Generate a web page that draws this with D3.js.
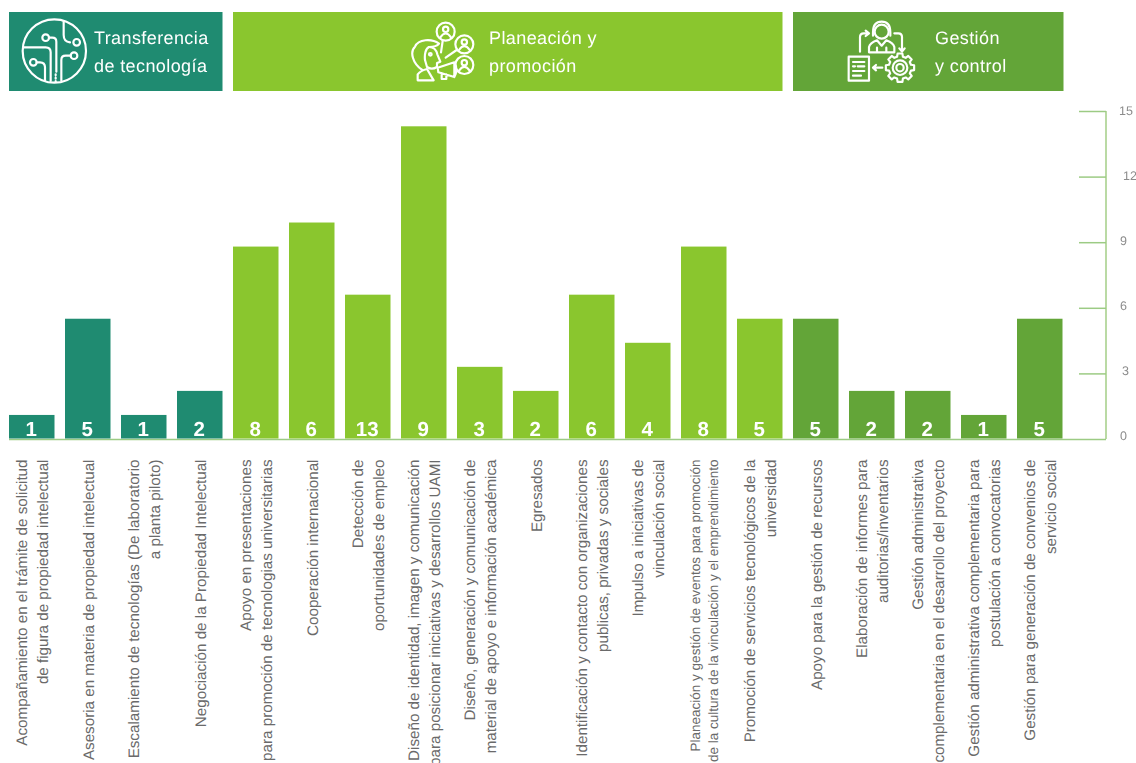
<!DOCTYPE html>
<html lang="es">
<head>
<meta charset="utf-8">
<script src="https://cdn.jsdelivr.net/npm/d3@7/dist/d3.min.js"></script>
<style>
html,body{margin:0;padding:0;background:#fff;overflow:hidden}
svg{display:block}
text{font-family:"Liberation Sans",Arial,sans-serif;text-rendering:geometricPrecision}
</style>
</head>
<body>
<div id="chart"></div>
<script>
const categories = [
  "Acompañamiento en el trámite de solicitud\nde figura de propiedad intelectual",
  "Asesoria en materia de propiedad intelectual",
  "Escalamiento de tecnologías (De laboratorio\na planta piloto)",
  "Negociación de la Propiedad Intelectual",
  "Apoyo en presentaciones\npara promoción de tecnologias universitarias",
  "Cooperación internacional",
  "Detección de\noportunidades de empleo",
  "Diseño de identidad, imagen y comunicación\npara posicionar iniciativas y desarrollos UAMI",
  "Diseño, generación y comunicación de\nmaterial de apoyo e información académica",
  "Egresados",
  "Identificación y contacto con organizaciones\npublicas, privadas y sociales",
  "Impulso a iniciativas de\nvinculación social",
  "Planeación y gestión de eventos para promoción\nde la cultura de la vinculación y el emprendimiento",
  "Promoción de servicios tecnológicos de la\nuniversidad",
  "Apoyo para la gestión de recursos",
  "Elaboración de informes para\nauditorias/inventarios",
  "Gestión administrativa\ncomplementaria en el desarrollo del proyecto",
  "Gestión administrativa complementaria para\npostulación a convocatorias",
  "Gestión para generación de convenios de\nservicio social"
];
const barValues = [1.1,5.5,1.1,2.2,8.8,9.9,6.6,14.3,3.3,2.2,6.6,4.4,8.8,5.5,5.5,2.2,2.2,1.1,5.5];
const barLabels = [1,5,1,2,8,6,13,9,3,2,6,4,8,5,5,2,2,1,5];
const barGroups = [0,0,0,0,1,1,1,1,1,1,1,1,1,1,2,2,2,2,2];
const groupNames = [["Transferencia","de tecnología"],["Planeación y","promoción"],["Gestión","y control"]];
const groupColors = ["#1f8b71","#8ac62e","#63a538"];
const yTicks = [0,3,6,9,12,15];

const W = 1136, H = 763;
const svg = d3.select("#chart").append("svg").attr("width",W).attr("height",H).attr("viewBox",`0 0 ${W} ${H}`);
const defs = svg.append("defs");
defs.append("filter").attr("id","soft").attr("x","-5%").attr("y","-5%").attr("width","110%").attr("height","110%")
  .append("feGaussianBlur").attr("stdDeviation",0.35);

const x = d3.scaleBand().domain(categories).range([3.75,1067.75]).paddingInner(0.1875).paddingOuter(0.09375);
const y = d3.scaleLinear().domain([0,15]).range([439,111]);

/* header bands */
const headerBoxes = [[9,222.5],[233,782.5],[793,1063.5]];
const headerTextX = [94,489,935];
const head = svg.append("g");
headerBoxes.forEach((b,i)=>{
  head.append("rect").attr("x",b[0]).attr("y",12).attr("width",b[1]-b[0]).attr("height",79).attr("fill",groupColors[i]);
  groupNames[i].forEach((t,j)=>{
    head.append("text").attr("x",headerTextX[i]).attr("y",44+j*28).attr("fill","#fff").attr("filter","url(#soft)")
      .attr("font-size",18).attr("letter-spacing",0.4).text(t);
  });
});

/* icons (traced in a 3x local grid) */
function icon(tx,ty){
  return svg.append("g").attr("transform",`translate(${tx},${ty}) scale(${1/3})`)
    .attr("fill","none").attr("stroke","#fff").attr("stroke-width",6.5).attr("stroke-linecap","round").attr("stroke-linejoin","round").attr("filter","url(#soft)");
}
const circ=(g,cx,cy,r)=>g.append("circle").attr("cx",cx).attr("cy",cy).attr("r",r);
const path=(g,d)=>g.append("path").attr("d",d);

const i1 = icon(15,15);
circ(i1,118,108,95);
path(i1,"M146,18V60Q146,80 165,82");circ(i1,185,82,10);
circ(i1,92,68,10);path(i1,"M102,68H112Q124,68 124,80V170");
path(i1,"M24,97H92Q107,97 107,112V198");
circ(i1,55,142,10);path(i1,"M65,142H75Q90,142 90,157V198");
circ(i1,177,122,10);path(i1,"M167,122H152Q139,122 139,135V197");
path(i1,"M122,178V202").attr("stroke-dasharray","3 7");

const i2 = icon(405,15);
[[122,50],[178,88],[178,150]].forEach(c=>{
  circ(i2,c[0],c[1],27);
  circ(i2,c[0],c[1]-7,8);
  path(i2,`M${c[0]-16},${c[1]+17}Q${c[0]},${c[1]-6} ${c[0]+16},${c[1]+17}`);
});
path(i2,"M113,78L108,112");path(i2,"M155,105L122,128");
path(i2,"M52,165C22,145 14,110 30,95C40,72 80,70 102,86C96,94 85,96 72,96C62,100 58,118 60,135");
path(i2,"M72,96Q92,96 97,118L106,140L96,144V156Q80,166 66,156L60,135");
circ(i2,76,118,4);
path(i2,"M38,196V178Q48,166 66,162L86,196Z");
path(i2,"M98,158L148,142V186L100,172ZM148,142Q160,164 148,186M110,174V192H124V178");

const i3 = icon(845,15);
circ(i3,110,50,21);
path(i3,"M84,52Q84,20 110,20Q136,20 136,52M84,52V62M136,52V62");
path(i3,"M72,112V96Q75,84 96,76L110,92L124,76Q145,84 148,96V112ZM96,112V98M124,112V98");
path(i3,"M45,110V66Q45,55 56,55H70M62,47L72,55L62,63");
path(i3,"M148,55H160Q171,55 171,66V108M163,100L171,110L179,100");
i3.append("rect").attr("x",11).attr("y",125).attr("width",61).attr("height",72);
path(i3,"M24,141H58M24,154H30M38,154H58M24,168H58M24,182H48");
path(i3,"M112,158H85M93,150L84,158L93,166");
circ(i3,165,158,22);circ(i3,165,158,11);
const gearPts = d3.range(8).flatMap(k=>{
  const a = k*Math.PI/4, w = 0.17, w2 = 0.26;
  return [[a-w2,34],[a-w,43],[a+w,43],[a+w2,34]];
});
i3.append("path").attr("transform","translate(165,158)")
  .attr("d",d3.line().curve(d3.curveLinearClosed)(gearPts.map(p=>[p[1]*Math.cos(p[0]),p[1]*Math.sin(p[0])])));

/* axis */
const tickNudge = {15:[-6,-1],12:[-2,-1],9:[-5,-2],6:[-5,-3],3:[-3,-3.5],0:[-5,-4]};
const axisG = svg.append("g").attr("transform","translate(1106,0)")
  .call(d3.axisRight(y).tickValues(yTicks).tickSize(-27).tickSizeOuter(0).tickPadding(19));
axisG.select(".domain").attr("stroke","#a9d18e").attr("stroke-width",1.6).attr("d",`M0,${y(15)}V${y(0)}`);
axisG.selectAll(".tick line").attr("stroke","#9ccb84").attr("stroke-width",1.5);
axisG.selectAll(".tick").filter(d=>d===0).select("line").attr("x2",-1097);
axisG.selectAll(".tick text").attr("fill","#8c8c8c").attr("font-size",12.5).attr("font-family",'"Liberation Sans",sans-serif')
  .attr("text-anchor","start").attr("filter","url(#soft)")
  .attr("dx",d=>tickNudge[d][0]).attr("dy",d=>0.35*12.5+tickNudge[d][1]);

/* bars */
svg.append("g").selectAll("rect").data(categories).join("rect")
  .attr("x",d=>x(d)).attr("width",x.bandwidth())
  .attr("y",(d,i)=>y(barValues[i])).attr("height",(d,i)=>y(0)-y(barValues[i])-0.5)
  .attr("fill",(d,i)=>groupColors[barGroups[i]]);

svg.append("g").selectAll("text").data(categories).join("text")
  .attr("x",d=>x(d)+x.bandwidth()/2-0.5).attr("y",436).attr("text-anchor","middle")
  .attr("fill","#fff").attr("font-weight","bold").attr("font-size",20.5).attr("filter","url(#soft)")
  .text((d,i)=>barLabels[i]);

/* rotated category labels */
const smallLabel = 12;
const lab = svg.append("g").attr("fill","#6a6a6a");
categories.forEach((c,i)=>{
  const lines = c.split("\n");
  const small = i===smallLabel;
  const fs = small ? 13.5 : 15.2, pitch = small ? 18.5 : 20.5;
  lines.forEach((t,j)=>{
    const cx = x(c)+x.bandwidth()/2+0.5+(j-(lines.length-1)/2)*pitch;
    lab.append("text").attr("transform",`translate(${cx},459.5) rotate(-90)`)
      .attr("text-anchor","end").attr("dy","0.35em").attr("font-size",fs).text(t);
  });
});
</script>
</body>
</html>
